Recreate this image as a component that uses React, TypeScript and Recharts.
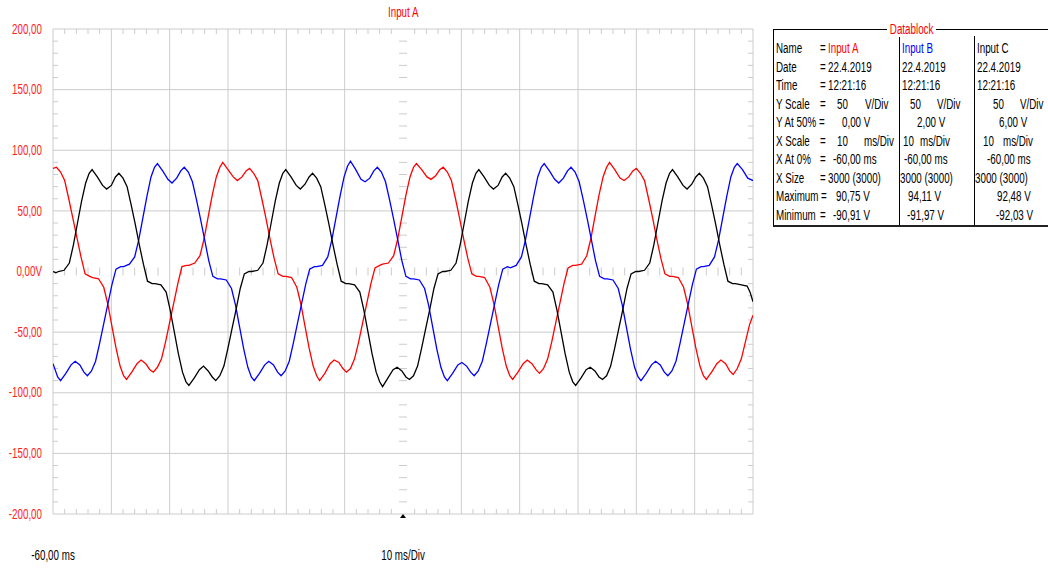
import { LineChart, Line, XAxis, YAxis, CartesianGrid, ReferenceLine, ReferenceDot } from 'recharts';

const FONT = "'Liberation Sans', Arial, sans-serif";
const SQUEEZE = 0.7; // scope software uses a very condensed face

// scope trace, Input A (red)  [ms, V]
const inputA: [number, number][] = [
  [-60.0, 85], [-59.4, 86], [-58.7, 82], [-58.0, 75], [-57.3, 60], [-56.6, 44], [-55.9, 28], [-55.2, 12], [-54.5, -2], [-53.7, -4],
  [-53.2, -5], [-52.2, -6], [-51.3, -13], [-50.6, -27], [-49.9, -45], [-49.2, -63], [-48.5, -78], [-47.9, -86], [-47.4, -89], [-46.5, -83], [-45.6, -76], [-44.9, -73], [-44.1, -76], [-43.4, -81], [-42.8, -83], [-42.1, -79], [-41.4, -72], [-40.7, -58], [-40.0, -42], [-39.3, -26], [-38.6, -10], [-37.9, 4], [-37.1, 5],
  [-36.7, 5], [-35.7, 7], [-34.8, 13], [-34.1, 27], [-33.4, 45], [-32.7, 63], [-32.0, 78], [-31.4, 86], [-30.9, 90], [-30.0, 84], [-29.1, 78], [-28.4, 75], [-27.6, 78], [-26.9, 83], [-26.3, 85], [-25.6, 81], [-24.9, 75], [-24.2, 60], [-23.5, 44], [-22.8, 27], [-22.1, 11], [-21.4, -2], [-20.6, -4],
  [-20.1, -4], [-19.1, -5], [-18.2, -13], [-17.5, -27], [-16.8, -45], [-16.1, -63], [-15.4, -78], [-14.8, -86], [-14.3, -90], [-13.4, -84], [-12.5, -76], [-11.8, -73], [-11.0, -75], [-10.3, -80], [-9.7, -83], [-9.0, -80], [-8.3, -72], [-7.6, -58], [-6.9, -42], [-6.2, -26], [-5.5, -10], [-4.8, 3], [-4.0, 5],
  [-3.5, 6], [-2.5, 7], [-1.6, 13], [-0.9, 27], [-0.2, 45], [0.5, 63], [1.2, 78], [1.8, 86], [2.3, 89], [3.2, 84], [4.1, 78], [4.8, 76], [5.6, 79], [6.3, 84], [6.9, 86], [7.6, 82], [8.3, 75], [9.0, 60], [9.7, 44], [10.4, 27], [11.1, 11], [11.8, -2], [12.6, -4],
  [13.0, -4], [14.0, -5], [14.9, -13], [15.6, -27], [16.3, -45], [17.0, -63], [17.7, -78], [18.3, -86], [18.8, -89], [19.7, -83], [20.6, -76], [21.3, -73], [22.1, -76], [22.8, -81], [23.4, -84], [24.1, -80], [24.8, -72], [25.5, -58], [26.2, -42], [26.9, -26], [27.6, -10], [28.3, 3], [29.1, 5],
  [29.6, 5], [30.6, 6], [31.5, 13], [32.2, 27], [32.9, 45], [33.6, 63], [34.3, 78], [34.9, 86], [35.4, 90], [36.3, 84], [37.2, 77], [37.9, 75], [38.7, 78], [39.4, 83], [40.0, 85], [40.7, 81], [41.4, 75], [42.1, 60], [42.8, 44], [43.5, 27], [44.2, 11], [44.9, -2], [45.7, -4],
  [46.2, -4], [47.2, -5], [48.1, -13], [48.8, -27], [49.5, -45], [50.2, -63], [50.9, -78], [51.5, -86], [52.0, -89], [52.9, -83], [53.8, -76], [54.5, -73], [55.3, -76], [56.0, -82], [56.6, -85], [57.3, -80], [58.0, -72], [58.7, -58], [59.4, -44], [60.0, -36],
];

// Input B (blue)
const inputB: [number, number][] = [
  [-60.0, -76], [-59.2, -87], [-58.7, -90], [-57.8, -84], [-56.9, -77], [-56.2, -74], [-55.4, -77], [-54.7, -83], [-54.1, -86], [-53.4, -82], [-52.7, -74], [-52.0, -59], [-51.3, -43], [-50.6, -27], [-49.9, -11], [-49.2, 2], [-48.4, 4],
  [-47.9, 4], [-46.9, 6], [-46.0, 12], [-45.3, 26], [-44.6, 44], [-43.9, 62], [-43.2, 78], [-42.6, 86], [-42.1, 89], [-41.2, 83], [-40.3, 76], [-39.6, 73], [-38.8, 77], [-38.1, 83], [-37.5, 86], [-36.8, 82], [-36.1, 74], [-35.4, 59], [-34.7, 43], [-34.0, 26], [-33.3, 9], [-32.6, -4], [-31.8, -6],
  [-31.3, -6], [-30.3, -7], [-29.4, -14], [-28.7, -28], [-28.0, -46], [-27.3, -64], [-26.6, -79], [-26.0, -87], [-25.5, -90], [-24.6, -84], [-23.7, -77], [-23.0, -74], [-22.2, -77], [-21.5, -83], [-20.9, -86], [-20.2, -82], [-19.5, -74], [-18.8, -59], [-18.1, -43], [-17.4, -27], [-16.7, -11], [-16.0, 2], [-15.2, 4],
  [-14.8, 4], [-13.8, 5], [-12.9, 12], [-12.2, 26], [-11.5, 44], [-10.8, 62], [-10.1, 78], [-9.5, 87], [-9.0, 91], [-8.1, 84], [-7.2, 76], [-6.5, 74], [-5.7, 77], [-5.0, 83], [-4.4, 86], [-3.7, 82], [-3.0, 74], [-2.3, 59], [-1.6, 43], [-0.9, 26], [-0.2, 9], [0.5, -4], [1.3, -6],
  [1.8, -6], [2.8, -7], [3.7, -14], [4.4, -28], [5.1, -46], [5.8, -64], [6.5, -79], [7.1, -87], [7.6, -90], [8.5, -84], [9.4, -77], [10.1, -75], [10.9, -78], [11.6, -83], [12.2, -86], [12.9, -82], [13.6, -74], [14.3, -59], [15.0, -43], [15.7, -27], [16.4, -11], [17.1, 2], [17.9, 4],
  [18.4, 3], [19.4, 5], [20.3, 12], [21.0, 26], [21.7, 44], [22.4, 62], [23.1, 78], [23.7, 86], [24.2, 89], [25.1, 83], [26.0, 76], [26.7, 73], [27.5, 77], [28.2, 83], [28.8, 86], [29.5, 82], [30.2, 74], [30.9, 59], [31.6, 43], [32.3, 26], [33.0, 9], [33.7, -4], [34.5, -6],
  [35.0, -6], [36.0, -7], [36.9, -14], [37.6, -28], [38.3, -46], [39.0, -64], [39.7, -79], [40.3, -87], [40.8, -90], [41.7, -84], [42.6, -77], [43.3, -74], [44.1, -77], [44.8, -83], [45.4, -86], [46.1, -82], [46.8, -74], [47.5, -59], [48.2, -43], [48.9, -27], [49.6, -11], [50.3, 2], [51.1, 4],
  [51.5, 4], [52.5, 5], [53.4, 12], [54.1, 26], [54.8, 44], [55.5, 62], [56.2, 78], [56.8, 86], [57.3, 89], [58.2, 84], [59.1, 77], [60.0, 75],
];

// Input C (black)
const inputC: [number, number][] = [
  [-60.0, 0], [-59.5, -1], [-59.1, 0], [-58.1, 1], [-57.2, 7], [-56.5, 22], [-55.8, 40], [-55.1, 58], [-54.4, 73], [-53.8, 81], [-53.3, 84], [-52.4, 78], [-51.5, 71], [-50.8, 68], [-50.0, 71], [-49.3, 78], [-48.7, 81], [-48.0, 77], [-47.3, 70], [-46.6, 55], [-45.9, 39], [-45.2, 22], [-44.5, 6], [-43.8, -8], [-43.0, -10],
  [-42.5, -10], [-41.5, -11], [-40.6, -17], [-39.9, -32], [-39.2, -50], [-38.5, -68], [-37.8, -83], [-37.2, -91], [-36.7, -94], [-35.8, -88], [-34.9, -81], [-34.2, -78], [-33.4, -82], [-32.7, -87], [-32.1, -90], [-31.4, -86], [-30.7, -78], [-30.0, -63], [-29.3, -47], [-28.6, -31], [-27.9, -14], [-27.2, -2], [-26.4, 0],
  [-25.9, 0], [-24.9, 1], [-24.0, 7], [-23.3, 22], [-22.6, 40], [-21.9, 58], [-21.2, 73], [-20.6, 81], [-20.1, 84], [-19.2, 78], [-18.3, 71], [-17.6, 68], [-16.8, 72], [-16.1, 78], [-15.5, 81], [-14.8, 77], [-14.1, 70], [-13.4, 55], [-12.7, 39], [-12.0, 22], [-11.3, 6], [-10.6, -8], [-9.8, -10],
  [-9.3, -10], [-8.3, -11], [-7.4, -17], [-6.7, -32], [-6.0, -50], [-5.3, -68], [-4.6, -83], [-4.0, -91], [-3.5, -95], [-2.6, -88], [-1.7, -81], [-1.0, -79], [-0.2, -82], [0.5, -87], [1.1, -89], [1.8, -86], [2.5, -78], [3.2, -63], [3.9, -47], [4.6, -31], [5.3, -14], [6.0, -2], [6.8, 0],
  [7.2, 0], [8.2, 1], [9.1, 7], [9.8, 22], [10.5, 40], [11.2, 58], [11.9, 73], [12.5, 81], [13.0, 84], [13.9, 78], [14.8, 71], [15.5, 68], [16.3, 71], [17.0, 78], [17.6, 81], [18.3, 77], [19.0, 70], [19.7, 55], [20.4, 39], [21.1, 22], [21.8, 6], [22.5, -8], [23.3, -10],
  [23.8, -10], [24.8, -11], [25.7, -17], [26.4, -32], [27.1, -50], [27.8, -68], [28.5, -83], [29.1, -91], [29.6, -94], [30.5, -88], [31.4, -81], [32.1, -79], [32.9, -82], [33.6, -87], [34.2, -89], [34.9, -86], [35.6, -78], [36.3, -63], [37.0, -47], [37.7, -31], [38.4, -14], [39.1, -2], [39.9, 0],
  [40.4, 0], [41.4, 1], [42.3, 7], [43.0, 22], [43.7, 40], [44.4, 58], [45.1, 73], [45.7, 81], [46.2, 84], [47.1, 78], [48.0, 71], [48.7, 68], [49.5, 72], [50.2, 78], [50.8, 81], [51.5, 77], [52.2, 70], [52.9, 55], [53.6, 39], [54.3, 22], [55.0, 6], [55.7, -8], [56.5, -10],
  [57.0, -10], [58.0, -11], [59.0, -12], [59.5, -17], [60.0, -25],
];

const yTicks = [-200, -150, -100, -50, 0, 50, 100, 150, 200];
const xTicks = [-60, 0];
const xGrid = [-60, -50, -40, -30, -20, -10, 10, 20, 30, 40, 50, 60];
const yGrid = [-200, -150, -100, -50, 50, 100, 150, 200];

const toPts = (arr: [number, number][]) => arr.map(([t, v]) => ({ t, v }));

// plot box in px, used only to turn tick length (px) into data units
const PLOT_W = 700;
const PLOT_H = 485;
const TX = (5 * 120) / PLOT_W;
const TY = (5 * 400) / PLOT_H;
const CX = (4 * 120) / PLOT_W;
const CY = (4 * 400) / PLOT_H;

const xMinor: number[] = [];
for (let t = -58; t <= 58; t += 2) if (t % 10 !== 0) xMinor.push(t);
const yMinor: number[] = [];
for (let v = -190; v <= 190; v += 10) if (v % 50 !== 0) yMinor.push(v);

const fmtY = (v: number) => (v === 0 ? '0,00V' : v.toFixed(2).replace('.', ','));
const fmtX = (v: number) => (v === -60 ? '-60,00 ms' : '10 ms/Div');

const GRID = '#cccccc';
const RED = '#ff0000';

function YTick(props: any) {
  const { x, y, payload } = props;
  return (
    <g transform={`translate(${x},${y})`}>
      <text transform={`scale(${SQUEEZE},1)`} textAnchor="end" dominantBaseline="central" fill="#ff2020" fontSize={14} fontFamily={FONT}>
        {fmtY(payload.value)}
      </text>
    </g>
  );
}

function XTick(props: any) {
  const { x, y, payload } = props;
  return (
    <g transform={`translate(${x},${y})`}>
      <text transform={`scale(${SQUEEZE},1)`} textAnchor="middle" dominantBaseline="central" fill="#000" fontSize={14} fontFamily={FONT}>
        {fmtX(payload.value)}
      </text>
    </g>
  );
}

function Narrow({ x, y, text, color, bg }: { x: number; y: number; text: string; color?: string; bg?: string }) {
  return (
    <span style={{ position: 'absolute', left: x, top: y - 8, lineHeight: '16px', fontSize: 14, whiteSpace: 'pre', color: color || '#000' }}>
      <span style={{ display: 'inline-block', transform: `scaleX(${SQUEEZE})`, transformOrigin: '0 50%', background: bg, padding: bg ? '0 4px' : 0 }}>{text}</span>
    </span>
  );
}

type Cell = [string, number, string?];
const dbRows: Cell[][] = [
  [['Name', 776], ['=', 820], ['Input A', 828, RED], ['Input B', 902, '#0000ff'], ['Input C', 977]],
  [['Date', 776], ['=', 820], ['22.4.2019', 828], ['22.4.2019', 902], ['22.4.2019', 977]],
  [['Time', 776], ['=', 820], ['12:21:16', 828], ['12:21:16', 902], ['12:21:16', 977]],
  [['Y Scale', 776], ['=', 820], ['50', 837], ['V/Div', 865], ['50', 910], ['V/Div', 937], ['50', 993], ['V/Div', 1020]],
  [['Y At 50%', 776], ['=', 819], ['0,00 V', 842], ['2,00 V', 917], ['6,00 V', 999]],
  [['X Scale', 776], ['=', 820], ['10', 837], ['ms/Div', 864], ['10', 903], ['ms/Div', 920], ['10', 983], ['ms/Div', 1003]],
  [['X At 0%', 776], ['=', 820], ['-60,00 ms', 833], ['-60,00 ms', 904], ['-60,00 ms', 987]],
  [['X Size', 776], ['=', 820], ['3000 (3000)', 828], ['3000 (3000)', 900], ['3000 (3000)', 975]],
  [['Maximum', 776], ['=', 821], ['90,75 V', 836], ['94,11 V', 908], ['92,48 V', 997]],
  [['Minimum', 776], ['=', 820], ['-90,91 V', 833], ['-91,97 V', 907], ['-92,03 V', 996]],
];

function Datablock() {
  return (
    <>
      <div style={{ position: 'absolute', left: 773, top: 29, width: 275, height: 195, borderTop: '1px solid #000', borderLeft: '1px solid #000', borderBottom: '2px solid #222' }} />
      <div style={{ position: 'absolute', left: 899, top: 36, width: 1, height: 189, background: '#000' }} />
      <div style={{ position: 'absolute', left: 974, top: 36, width: 1, height: 189, background: '#000' }} />
      <Narrow x={887} y={29} text="Datablock" color={RED} bg="#fff" />
      {dbRows.map((row, i) =>
        row.map(([text, x, color], j) => <Narrow key={`${i}-${j}`} x={x} y={48.3 + i * 18.5} text={text} color={color} />)
      )}
    </>
  );
}

export default function App() {
  return (
    <div style={{ position: 'absolute', left: 0, top: 0, width: 1048, height: 570, overflow: 'hidden', background: '#fff', fontFamily: FONT }}>
      <Narrow x={388} y={12} text="Input A" color={RED} />
      <LineChart width={1048} height={570} margin={{ top: 29, right: 295, bottom: 26, left: 0 }}>
        <CartesianGrid stroke={GRID} strokeWidth={1} verticalValues={xGrid} horizontalValues={yGrid} />
        <XAxis
          dataKey="t"
          type="number"
          domain={[-60, 60]}
          ticks={xTicks}
          interval={0}
          axisLine={false}
          tickLine={false}
          tickSize={0}
          tickMargin={41}
          height={30}
          allowDataOverflow
          tick={<XTick />}
        />
        <YAxis
          type="number"
          domain={[-200, 200]}
          ticks={yTicks}
          interval={0}
          axisLine={false}
          tickLine={false}
          tickSize={0}
          tickMargin={11}
          width={53}
          allowDataOverflow
          tick={<YTick />}
        />
        {xMinor.map((t) => (
          <ReferenceLine key={`xt${t}`} stroke={GRID} ifOverflow="visible" segment={[{ x: t, y: 200 }, { x: t, y: 200 - TY }]} />
        ))}
        {xMinor.map((t) => (
          <ReferenceLine key={`xb${t}`} stroke={GRID} ifOverflow="visible" segment={[{ x: t, y: -200 }, { x: t, y: -200 + TY }]} />
        ))}
        {xMinor.map((t) => (
          <ReferenceLine key={`xc${t}`} stroke={GRID} ifOverflow="visible" segment={[{ x: t, y: CY }, { x: t, y: -CY }]} />
        ))}
        {yMinor.map((v) => (
          <ReferenceLine key={`yl${v}`} stroke={GRID} ifOverflow="visible" segment={[{ x: -60, y: v }, { x: -60 + TX, y: v }]} />
        ))}
        {yMinor.map((v) => (
          <ReferenceLine key={`yr${v}`} stroke={GRID} ifOverflow="visible" segment={[{ x: 60, y: v }, { x: 60 - TX, y: v }]} />
        ))}
        {yMinor.map((v) => (
          <ReferenceLine key={`yc${v}`} stroke={GRID} ifOverflow="visible" segment={[{ x: -CX, y: v }, { x: CX, y: v }]} />
        ))}
        <Line data={toPts(inputA)} dataKey="v" stroke="#ff0000" strokeWidth={1.3} dot={false} isAnimationActive={false} />
        <Line data={toPts(inputB)} dataKey="v" stroke="#0000ff" strokeWidth={1.3} dot={false} isAnimationActive={false} />
        <Line data={toPts(inputC)} dataKey="v" stroke="#000000" strokeWidth={1.3} dot={false} isAnimationActive={false} />
        <ReferenceDot
          x={0}
          y={-200}
          ifOverflow="visible"
          shape={(p: any) => (
            <polygon points={`${p.cx},${p.cy} ${p.cx - 3},${p.cy + 4} ${p.cx + 3},${p.cy + 4}`} fill="#000" />
          )}
        />
      </LineChart>
      <Datablock />
    </div>
  );
}
